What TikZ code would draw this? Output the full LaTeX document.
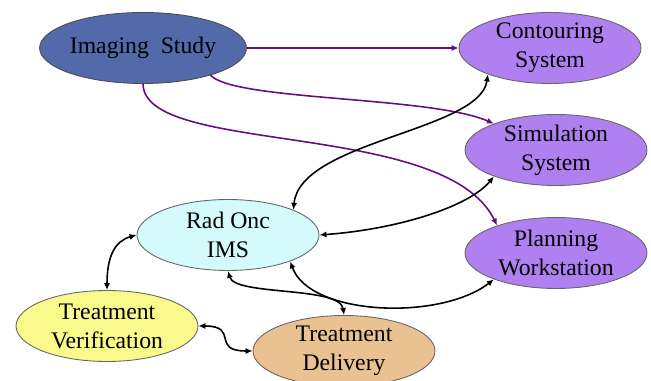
\documentclass[tikz,border=0pt]{standalone}
\usepackage{fontspec}
\setmainfont{Liberation Serif}
\usepackage{tikz}
\usetikzlibrary{shapes.geometric,arrows.meta}

\definecolor{imgblue}{RGB}{82,106,170}
\definecolor{sysviolet}{RGB}{176,128,240}
\definecolor{imscyan}{RGB}{212,250,252}
\definecolor{verifyellow}{RGB}{250,250,140}
\definecolor{delivtan}{RGB}{234,194,146}
\definecolor{feedpurple}{RGB}{104,12,134}

\begin{document}
\begin{tikzpicture}[x=0.02cm, y=0.02cm,
  box/.style={ellipse, draw=gray!80!black, line width=0.5pt,
    minimum width=3.64cm, minimum height=1.42cm,
    inner xsep=0pt, inner ysep=-5pt, align=center,
    font=\fontsize{13.5}{16.5}\selectfont},
  feed/.style={draw=feedpurple, line width=0.9pt,
    -{Latex[length=4pt,width=3.5pt]}},
  link/.style={draw=black, line width=0.9pt,
    {Latex[length=4pt,width=3.5pt]}-{Latex[length=4pt,width=3.5pt]}}]
  \useasboundingbox (0,0) rectangle (651,381);

  % Nodes
  \node[box, fill=imgblue, draw=black!70] (img) at (143,333) {Imaging\enspace Study};
  \node[box, fill=sysviolet] (cont) at (550,333) {Contouring\\System};
  \node[box, fill=sysviolet] (sim) at (556,231) {Simulation\\System};
  \node[box, fill=sysviolet] (plan) at (556,128) {Planning\\Workstation};
  \node[box, fill=imscyan] (rad) at (228,146) {Rad Onc\\IMS};
  \node[box, fill=verifyellow] (ver) at (107,55) {Treatment\\Verification};
  \node[box, fill=delivtan] (del) at (344,30) {Treatment\\Delivery};

  % Image data going out
  \draw[feed] (img.east) -- (cont.west);
  \draw[feed] (img.-22) .. controls (235,280) and (430,285) .. (sim.157);
  \draw[feed] (img.south) .. controls (144,225) and (445,262) .. (plan.155);

  % Links to the IMS
  \draw[link] (rad.21) .. controls (300,240) and (480,250) .. (cont.-157);
  \draw[link] (rad.east) .. controls (400,152) and (470,175) .. (sim.-157);
  \draw[link] (rad.-23) .. controls (310,65) and (440,60) .. (plan.-157);
  \draw[link] (rad.south) .. controls (235,85) and (340,95) .. (del.north);
  \draw[link] (rad.west) .. controls (115,140) and (107,125) .. (ver.north);
  \draw[link] (ver.east) .. controls (240,55) and (210,30) .. (del.west);
\end{tikzpicture}
\end{document}
